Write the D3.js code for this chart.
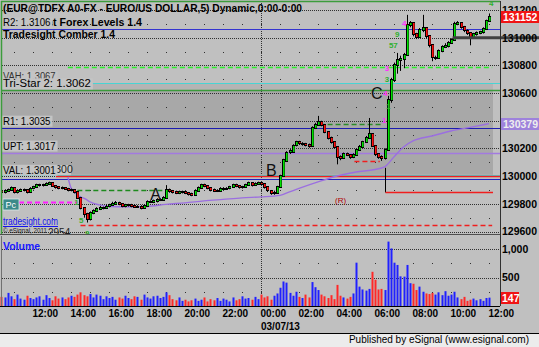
<!DOCTYPE html>
<html>
  <head>
    <meta charset="utf-8">
    <title>EUR@TDFX A0-FX 5 min</title>
    <script type="text/javascript" src="https://d3js.org/d3.v7.min.js"></script>
    <style>
      body { margin: 0; background: #c0c0c0; }
      svg { display: block; font-family: "Liberation Sans", Arial, sans-serif; }
    </style>
  </head>
  <body>
    <script>

    // candles 10 minutes apart, the first one at startTime
    var startTime = "03/06/13 10:20";
    var firstOpen = 129890;
    var closes = [129885,129895,129900,129915,129885,129895,129900,129900,129885,129910,
                  129920,129935,129935,129935,129945,129950,129930,129920,129915,129915,
                  129910,129900,129900,129885,129845,129770,129725,129690,129735,129750,
                  129765,129770,129770,129780,129790,129800,129805,129800,129785,129790,
                  129790,129785,129780,129780,129770,129785,129815,129815,129820,129830,
                  129830,129845,129900,129895,129885,129880,129885,129885,129880,129870,
                  129865,129895,129915,129935,129930,129915,129900,129895,129895,129910,
                  129910,129910,129920,129935,129930,129920,129920,129935,129950,129935,
                  129945,129950,129945,129920,129895,129880,129880,129920,130000,130115,
                  130170,130180,130220,130245,130235,130235,130225,130220,130350,130370,
                  130390,130370,130320,130275,130245,130210,130140,130130,130160,130155,
                  130140,130155,130190,130210,130245,130275,130305,130220,130160,130140,
                  130130,130190,130550,130695,130805,130840,130845,130875,131090,131105,
                  131025,131005,131055,131070,131010,130945,130855,130855,130905,130935,
                  130940,130960,130985,131100,131105,131075,131050,131035,131005,131025,
                  131035,131040,131065,131120,131152];
    var highs = [129905,129905,129910,129925,129920,129905,129910,129910,129905,129920,
                 129930,129945,129945,129945,129955,129960,129955,129935,129925,129925,
                 129920,129915,129910,129905,129890,129850,129775,129735,129745,129760,
                 129775,129785,129780,129795,129800,129815,129820,129815,129805,129800,
                 129800,129800,129795,129790,129790,129795,129825,129825,129830,129840,
                 129840,129855,129935,129910,129900,129895,129895,129895,129890,129885,
                 129880,129905,129925,129945,129945,129935,129920,129910,129905,129920,
                 129920,129920,129930,129945,129945,129935,129930,129945,129960,129955,
                 129955,129960,129960,129950,129925,129900,129895,129930,130010,130125,
                 130180,130195,130230,130255,130255,130245,130240,130235,130360,130385,
                 130435,130400,130375,130325,130285,130250,130215,130150,130170,130170,
                 130160,130165,130200,130225,130255,130290,130420,130310,130225,130165,
                 130150,130200,130580,130710,130820,130890,130870,130890,131165,131120,
                 131110,131035,131070,131165,131075,131015,130950,130870,130915,130945,
                 130960,130975,130995,131115,131120,131110,131085,131060,131040,131035,
                 131045,131050,131075,131130,131175];
    var lows = [129875,129875,129885,129895,129875,129875,129890,129890,129875,129880,
                129905,129915,129925,129925,129930,129940,129925,129910,129905,129905,
                129900,129890,129890,129875,129835,129760,129700,129665,129680,129725,
                129745,129755,129760,129765,129775,129785,129795,129790,129775,129775,
                129780,129775,129770,129770,129760,129765,129780,129805,129805,129810,
                129820,129825,129840,129880,129875,129870,129870,129875,129870,129860,
                129855,129860,129890,129910,129920,129905,129890,129885,129885,129890,
                129900,129900,129905,129915,129920,129910,129910,129915,129930,129925,
                129930,129940,129935,129910,129885,129865,129865,129875,129915,129995,
                130110,130160,130175,130215,130225,130220,130215,130205,130215,130340,
                130365,130360,130310,130265,130235,130200,130085,130115,130125,130145,
                130125,130130,130150,130185,130205,130240,130270,130210,130145,130125,
                130110,130120,130185,130530,130680,130740,130760,130780,130870,131075,
                131010,130990,131000,131040,130995,130930,130830,130840,130850,130895,
                130925,130930,130955,130980,131090,131065,131040,131020,130945,130995,
                131015,131025,131030,131060,131115];
    var volumes = [160,150,230,170,120,200,130,110,180,140,
                   120,150,170,110,190,140,100,170,130,150,
                   120,150,180,160,200,240,190,170,210,150,
                   200,180,120,170,140,160,110,150,130,180,
                   140,120,170,160,110,200,150,130,170,180,
                   140,160,240,190,120,100,150,90,110,80,
                   100,130,90,110,150,80,120,100,140,90,
                   130,110,80,150,100,120,170,130,140,110,
                   160,120,200,150,170,110,180,220,320,430,
                   410,230,180,250,160,140,200,150,420,330,
                   280,200,170,140,190,120,370,180,150,130,
                   160,220,760,340,290,270,300,600,460,290,
                   300,280,1130,1010,760,720,520,515,720,400,
                   390,280,340,250,220,210,230,200,240,190,
                   260,180,200,250,150,120,160,90,110,130,
                   100,120,90,140,147];

    // volume weighted average price
    var vwapTimes = ["03/06/13 13:50","03/06/13 14:00","03/06/13 14:10","03/06/13 14:20","03/06/13 14:30",
                     "03/06/13 14:45","03/06/13 15:00","03/06/13 15:30","03/06/13 16:00","03/06/13 17:00",
                     "03/06/13 18:00","03/06/13 19:00","03/06/13 20:00","03/06/13 21:00","03/06/13 22:00",
                     "03/06/13 23:00","03/07/13 00:00","03/07/13 01:00","03/07/13 01:30","03/07/13 02:00",
                     "03/07/13 03:00","03/07/13 04:00","03/07/13 05:00","03/07/13 06:00","03/07/13 06:30",
                     "03/07/13 07:00","03/07/13 07:30","03/07/13 08:00","03/07/13 09:00","03/07/13 10:00",
                     "03/07/13 11:00","03/07/13 12:00"];
    var vwapValues = [129994,129915,129886,129864,129850,129835,129814,129792,129781,129778,
                      129781,129796,129807,129821,129832,129843,129850,129861,129886,129911,
                      129958,130001,130030,130048,130066,130139,130211,130254,130290,130326,
                      130352,130379];

    var gridPrices = [131200, 131000, 130800, 130600, 130400, 130200, 130000, 129800, 129600];
    var priceTicks = [131200, 131000, 130800, 130600, 130200, 130000, 129800, 129600];
    var volumeTicks = [500, 1000];
    var timeTicks = ["03/06/13 12:00","03/06/13 14:00","03/06/13 16:00","03/06/13 18:00","03/06/13 20:00",
                     "03/06/13 22:00","03/07/13 00:00","03/07/13 02:00","03/07/13 04:00","03/07/13 06:00",
                     "03/07/13 08:00","03/07/13 10:00","03/07/13 12:00"];

    // study levels with their labels
    var levelLabels = ["R2: 1.3106", "VAH: 1.3067", "Tri-Star 2: 1.3062", "R1: 1.3035", "UPT: 1.3017", "VAL: 1.3001"];
    var levelPrices = [131060, 130670, 130620, 130350, 130170, 130010];
    var levelColors = ["#3434d0", "#48d4d4", "#3c9a3c", "#1c1cb0", "#a27ae0", "#48d4d4"];

    // dashed segments
    var dashPrices = [130785, 129900, 129810, 129650, 130373, 130112];
    var dashFrom = ["03/06/13 13:50","03/06/13 14:20","03/06/13 10:00","03/06/13 14:30","03/07/13 03:05","03/07/13 04:55"];
    var dashTo = ["03/07/13 12:10","03/06/13 19:05","03/06/13 14:20","03/07/13 12:10","03/07/13 06:25","03/07/13 06:15"];
    var dashColors = ["#2ef02e", "#1e8a1e", "#ff1eff", "#f01e1e", "#2a8a2a", "#f01e1e"];

    var roundPrice = 130000, roundLabel = "1.300", supportPrice = 129990, highLevel = 131000;
    var stopPrice = 129888, stopTop = 130060, stopFrom = "03/07/13 06:30";

    var waveLabels = ["A", "B", "C"];
    var waveTimes = ["03/06/13 18:10", "03/07/13 00:16", "03/07/13 05:47"];
    var wavePrices = [129828, 130001, 130557];

    var pinkCounts = ["3", "4", "4", "1"];
    var pinkTimes = ["03/07/13 06:31", "03/07/13 07:25", "03/07/13 06:25", "03/07/13 06:22"];
    var pinkPrices = [130760, 131085, 130580, 130385];
    var greenCounts = ["9", "57", "3", "1", "1", "5", "9", "4"];
    var greenTimes = ["03/07/13 07:03", "03/07/13 06:44", "03/07/13 06:31", "03/07/13 06:35",
                      "03/06/13 14:10", "03/06/13 14:25", "03/06/13 14:44", "03/07/13 12:00"];
    var greenPrices = [131005, 130925, 130680, 130485, 129792, 129662, 129568, 131230];

    var W = 539, H = 347;
    var plotLeft = 2, plotRight = 493, axisX = 500;
    var parse = d3.timeParse("%m/%d/%y %H:%M");

    var x = d3.scaleTime()
              .domain([parse("03/07/13 00:00"), parse("03/07/13 12:00")])
              .range([261, 489]);
    var y = d3.scaleLinear().domain([129600, 131200]).range([231.5, 10]);
    var yv = d3.scaleLinear().domain([0, 1000]).range([306, 249]);
    var px = function(v) { return Math.round(v) + 0.5; };

    var start = parse(startTime);
    var times = closes.map(function(d, i) { return d3.timeMinute.offset(start, 10 * i); });
    var opens = closes.map(function(d, i) { return i ? closes[i - 1] : firstOpen; });

    var svg = d3.select("body").append("svg").attr("width", W).attr("height", H);

    svg.append("rect").attr("width", W).attr("height", H).attr("fill", "#c0c0c0");

    // value area shading
    svg.append("rect").attr("x", plotLeft).attr("width", plotRight - plotLeft)
       .attr("y", y(130670)).attr("height", y(130010) - y(130670)).attr("fill", "#a8a8a8");
    svg.append("rect").attr("x", plotLeft).attr("width", plotRight - plotLeft)
       .attr("y", y(130670)).attr("height", y(130620) - y(130670)).attr("fill", "#b4b4b4");

    // sparse hourly dots
    var hours = d3.timeHour.range(parse("03/06/13 11:00"), parse("03/07/13 12:30"));
    var dotRows = [131100, 130900, 130700, 130500, 130300, 130100, 129900, 129700].map(y)
                  .concat([750, 250].map(yv));
    dotRows.forEach(function(r) {
      svg.append("g").selectAll("rect").data(hours).enter().append("rect")
         .attr("x", function(d) { return Math.round(x(d)); }).attr("y", Math.round(r))
         .attr("width", 1).attr("height", 1).attr("fill", "#303030");
    });

    // dotted grid
    var dotted = function(yy) {
      svg.append("line").attr("x1", plotLeft).attr("x2", axisX).attr("y1", px(yy)).attr("y2", px(yy))
         .attr("stroke", "#303030").attr("stroke-dasharray", "1,1");
    };
    gridPrices.forEach(function(p) { dotted(y(p)); });
    volumeTicks.forEach(function(v) { dotted(yv(v)); });
    svg.append("line").attr("x1", px(x(parse("03/07/13 00:00")))).attr("x2", px(x(parse("03/07/13 00:00"))))
       .attr("y1", 3).attr("y2", 306).attr("stroke", "#303030").attr("stroke-dasharray", "1,1");

    // level lines
    levelPrices.forEach(function(p, i) {
      svg.append("line").attr("x1", plotLeft).attr("x2", axisX).attr("y1", px(y(p))).attr("y2", px(y(p)))
         .attr("stroke", levelColors[i]).attr("stroke-width", i == 2 || i == 4 ? 1.5 : 1.2);
    });
    svg.append("line").attr("x1", 56).attr("x2", axisX).attr("y1", px(y(roundPrice))).attr("y2", px(y(roundPrice)))
       .attr("stroke", "#f01e1e").attr("stroke-width", 1.5);
    svg.append("line").attr("x1", plotLeft).attr("x2", axisX).attr("y1", px(y(supportPrice)) + 1).attr("y2", px(y(supportPrice)) + 1)
       .attr("stroke", "#2020c0").attr("stroke-width", 1.2);

    dashPrices.forEach(function(p, i) {
      svg.append("line").attr("x1", x(parse(dashFrom[i]))).attr("x2", x(parse(dashTo[i])))
         .attr("y1", px(y(p))).attr("y2", px(y(p)))
         .attr("stroke", dashColors[i]).attr("stroke-width", i == 2 ? 2 : 1.5)
         .attr("stroke-dasharray", "5,3");
    });

    // stop
    svg.append("line").attr("x1", px(x(parse(stopFrom)))).attr("x2", px(x(parse(stopFrom))))
       .attr("y1", y(stopTop)).attr("y2", px(y(stopPrice))).attr("stroke", "#000");
    svg.append("line").attr("x1", px(x(parse(stopFrom)))).attr("x2", plotRight)
       .attr("y1", px(y(stopPrice))).attr("y2", px(y(stopPrice))).attr("stroke", "#f01e1e").attr("stroke-width", 1.5);

    // VWAP
    svg.append("path")
       .datum(vwapTimes.map(function(t, i) { return [parse(t), vwapValues[i]]; }))
       .attr("fill", "none").attr("stroke", "#9b6fe0").attr("stroke-width", 1.4)
       .attr("d", d3.line().curve(d3.curveMonotoneX)
                  .x(function(d) { return x(d[0]); }).y(function(d) { return y(d[1]); }));

    // candles
    svg.append("clipPath").attr("id", "mainclip").append("rect")
       .attr("x", plotLeft).attr("y", 2).attr("width", axisX - plotLeft).attr("height", 232);
    var candles = svg.append("g").attr("clip-path", "url(#mainclip)");
    var cx = function(i) { return Math.round(x(times[i])); };

    candles.selectAll("line.wick").data(closes).enter().append("line")
       .attr("x1", function(d, i) { return cx(i) + 0.5; })
       .attr("x2", function(d, i) { return cx(i) + 0.5; })
       .attr("y1", function(d, i) { return y(highs[i]); })
       .attr("y2", function(d, i) { return y(lows[i]); })
       .attr("stroke", "#000").attr("stroke-width", 1);

    candles.selectAll("rect.outer").data(closes).enter().append("rect")
       .attr("x", function(d, i) { return cx(i) - 1; })
       .attr("width", 3)
       .attr("y", function(d, i) { return Math.round(y(Math.max(d, opens[i]))) - 1; })
       .attr("height", function(d, i) { return Math.max(2, Math.round(Math.abs(y(d) - y(opens[i]))) + 2); })
       .attr("fill", "#000");

    candles.selectAll("rect.inner").data(closes).enter().append("rect")
       .attr("x", function(d, i) { return cx(i); })
       .attr("width", 1.6)
       .attr("y", function(d, i) { return Math.round(y(Math.max(d, opens[i]))); })
       .attr("height", function(d, i) { return Math.max(0, Math.round(Math.abs(y(d) - y(opens[i])))); })
       .attr("fill", function(d, i) { return d >= opens[i] ? "#00e000" : "#ff1010"; });

    // volume
    svg.append("g").selectAll("rect").data(volumes).enter().append("rect")
       .attr("x", function(d, i) { return cx(i) - 0.5; })
       .attr("width", 2)
       .attr("y", function(d) { return yv(d); })
       .attr("height", function(d) { return 306 - yv(d); })
       .attr("fill", function(d, i) { return closes[i] >= opens[i] ? "#2020ff" : "#ff2828"; });

    // texts on the price panel
    var label = function(t, xx, yy, size, opts) {
      opts = opts || {};
      var el = svg.append("text").attr("x", xx).attr("y", yy).attr("font-size", size)
                  .attr("font-weight", opts.bold ? "bold" : "normal")
                  .attr("fill", opts.color || "#000").text(t);
      if (opts.len) el.attr("textLength", opts.len).attr("lengthAdjust", "spacingAndGlyphs");
      return el;
    };

    label("(EUR@TDFX A0-FX - EURO/US DOLLAR,5) Dynamic,0:00-0:00", 3, 12, 11, {bold: true, len: 299});
    label("Tradesight Forex Levels 1.4", 3, 26, 11, {bold: true, len: 139});
    label("Tradesight Comber 1.4", 3, 38, 11, {bold: true, len: 112});

    // round number label, its "1." sits under the VAL box
    svg.append("rect").attr("x", 46).attr("y", y(roundPrice) - 11).attr("width", 25).attr("height", 10)
       .attr("fill", "#c8c8c8");
    label(roundLabel, 46.5, y(roundPrice) - 3, 10.5, {color: "#202020"});

    levelLabels.forEach(function(t, i) {
      var base = y(levelPrices[i]) - (i == 5 ? 1 : 3);
      var w = t.length * 5.05;
      svg.append("rect").attr("x", 2).attr("y", base - 9).attr("width", w).attr("height", 11)
         .attr("fill", "#c4c4c4");
      label(t, 3, base, 10, {color: i == 1 ? "#333" : "#000", len: w - 3});
    });

    waveLabels.forEach(function(t, i) {
      label(t, x(parse(waveTimes[i])), y(wavePrices[i]), 16, {color: "#111"});
    });
    pinkCounts.forEach(function(t, i) {
      label(t, x(parse(pinkTimes[i])), y(pinkPrices[i]), 8, {bold: true, color: "#ff30ff"});
    });
    greenCounts.forEach(function(t, i) {
      label(t, x(parse(greenTimes[i])), y(greenPrices[i]), 8, {bold: true, color: "#30b030"})
        .attr("clip-path", "url(#mainclip)");
    });
    label("(R)", 335, 203, 8, {color: "#b00000"});

    svg.append("rect").attr("x", 3).attr("y", 199).attr("width", 16).attr("height", 11)
       .attr("fill", "#3a8a8a").attr("stroke", "#d8e8e8").attr("stroke-width", 0.8);
    label("Pc", 5.5, 208, 9, {color: "#fff"});
    label("tradesight.com", 3, 225, 10, {color: "#1414ee", len: 55}).attr("text-decoration", "underline");
    label("\u00a9 eSignal, 2011", 3, 233, 6.5, {color: "#222", len: 44});
    label("2954", 48, 236, 10, {color: "#222"}).attr("clip-path", "url(#mainclip)");

    // heavy line over the 131000 level at the right
    svg.append("line").attr("x1", x(parse("03/07/13 10:05"))).attr("x2", W)
       .attr("y1", y(highLevel)).attr("y2", y(highLevel)).attr("stroke", "#404040").attr("stroke-width", 3);

    // panel frames
    svg.append("line").attr("x1", 0).attr("x2", axisX).attr("y1", 234.5).attr("y2", 234.5).attr("stroke", "#505050");
    svg.append("line").attr("x1", 1).attr("x2", axisX).attr("y1", 1.5).attr("y2", 1.5).attr("stroke", "#3c9c3c").attr("stroke-width", 1.5);
    svg.append("line").attr("x1", 1.5).attr("x2", 1.5).attr("y1", 1).attr("y2", 234).attr("stroke", "#3c9c3c").attr("stroke-width", 1.5);
    svg.append("line").attr("x1", 1.5).attr("x2", 1.5).attr("y1", 236).attr("y2", 306).attr("stroke", "#707070");
    svg.append("line").attr("x1", axisX + 0.5).attr("x2", axisX + 0.5).attr("y1", 1).attr("y2", 306).attr("stroke", "#303030");
    svg.append("line").attr("x1", 0).attr("x2", axisX).attr("y1", 306.5).attr("y2", 306.5).attr("stroke", "#000");

    label("Volume", 3, 250, 10.5, {bold: true, color: "#1a1aff", len: 37});

    // price axis
    var priceAxis = svg.append("g").attr("transform", "translate(502,0)")
       .call(d3.axisRight(y).tickValues(priceTicks).tickSize(0).tickPadding(0).tickFormat(d3.format("d")));
    priceAxis.select(".domain").remove();
    priceAxis.selectAll("text").attr("font-size", 10.5).attr("font-weight", "bold")
             .attr("font-family", "Liberation Sans, Arial").attr("fill", "#000");

    var volAxis = svg.append("g").attr("transform", "translate(502,0)")
       .call(d3.axisRight(yv).tickValues(volumeTicks).tickSize(0).tickPadding(0).tickFormat(d3.format(",")));
    volAxis.select(".domain").remove();
    volAxis.selectAll("text").attr("font-size", 10.5).attr("font-weight", "bold")
           .attr("font-family", "Liberation Sans, Arial").attr("fill", "#000");

    // value boxes on the axis
    var valueBox = function(v, yy, bg, fg, x0) {
      svg.append("rect").attr("x", x0).attr("y", Math.round(yy) - 6).attr("width", W - x0).attr("height", 12).attr("fill", bg);
      svg.append("text").attr("x", x0 + 2).attr("y", Math.round(yy) + 4).attr("font-size", 10.5).attr("font-weight", "bold")
         .attr("fill", fg).text(v);
    };
    valueBox(closes[closes.length - 1], y(closes[closes.length - 1]), "#f01414", "#fff", 501);
    valueBox(vwapValues[vwapValues.length - 1], y(vwapValues[vwapValues.length - 1]), "#9e82dc", "#eee", 501);
    svg.append("rect").attr("x", 501).attr("y", Math.round(yv(volumes[volumes.length - 1])) - 6)
       .attr("width", 18).attr("height", 12).attr("fill", "#f01414");
    svg.append("text").attr("x", 502).attr("y", Math.round(yv(volumes[volumes.length - 1])) + 4)
       .attr("font-size", 10.5).attr("font-weight", "bold").attr("fill", "#fff").text(volumes[volumes.length - 1]);

    // time axis
    var timeAxis = svg.append("g").attr("transform", "translate(0,309.5)")
       .call(d3.axisBottom(x).tickValues(timeTicks.map(parse)).tickSize(0).tickPadding(0)
               .tickFormat(d3.timeFormat("%H:%M")));
    timeAxis.select(".domain").remove();
    timeAxis.selectAll("text").attr("text-anchor", "start").attr("x", -1).attr("font-size", 10)
            .attr("font-weight", "bold").attr("font-family", "Liberation Sans, Arial").attr("fill", "#000");
    label("03/07/13", x(parse("03/07/13 00:00")), 330, 10, {bold: true});

    // bottom strip
    svg.append("rect").attr("x", 0).attr("y", 333).attr("width", W).attr("height", H - 333).attr("fill", "#ececec");
    svg.append("line").attr("x1", 0).attr("x2", W).attr("y1", 333.5).attr("y2", 333.5).attr("stroke", "#000");
    svg.append("text").attr("x", 529).attr("y", 343).attr("text-anchor", "end").attr("font-size", 10)
       .attr("fill", "#000").text("Published by eSignal (www.esignal.com)");

  </script>
  </body>
</html>
